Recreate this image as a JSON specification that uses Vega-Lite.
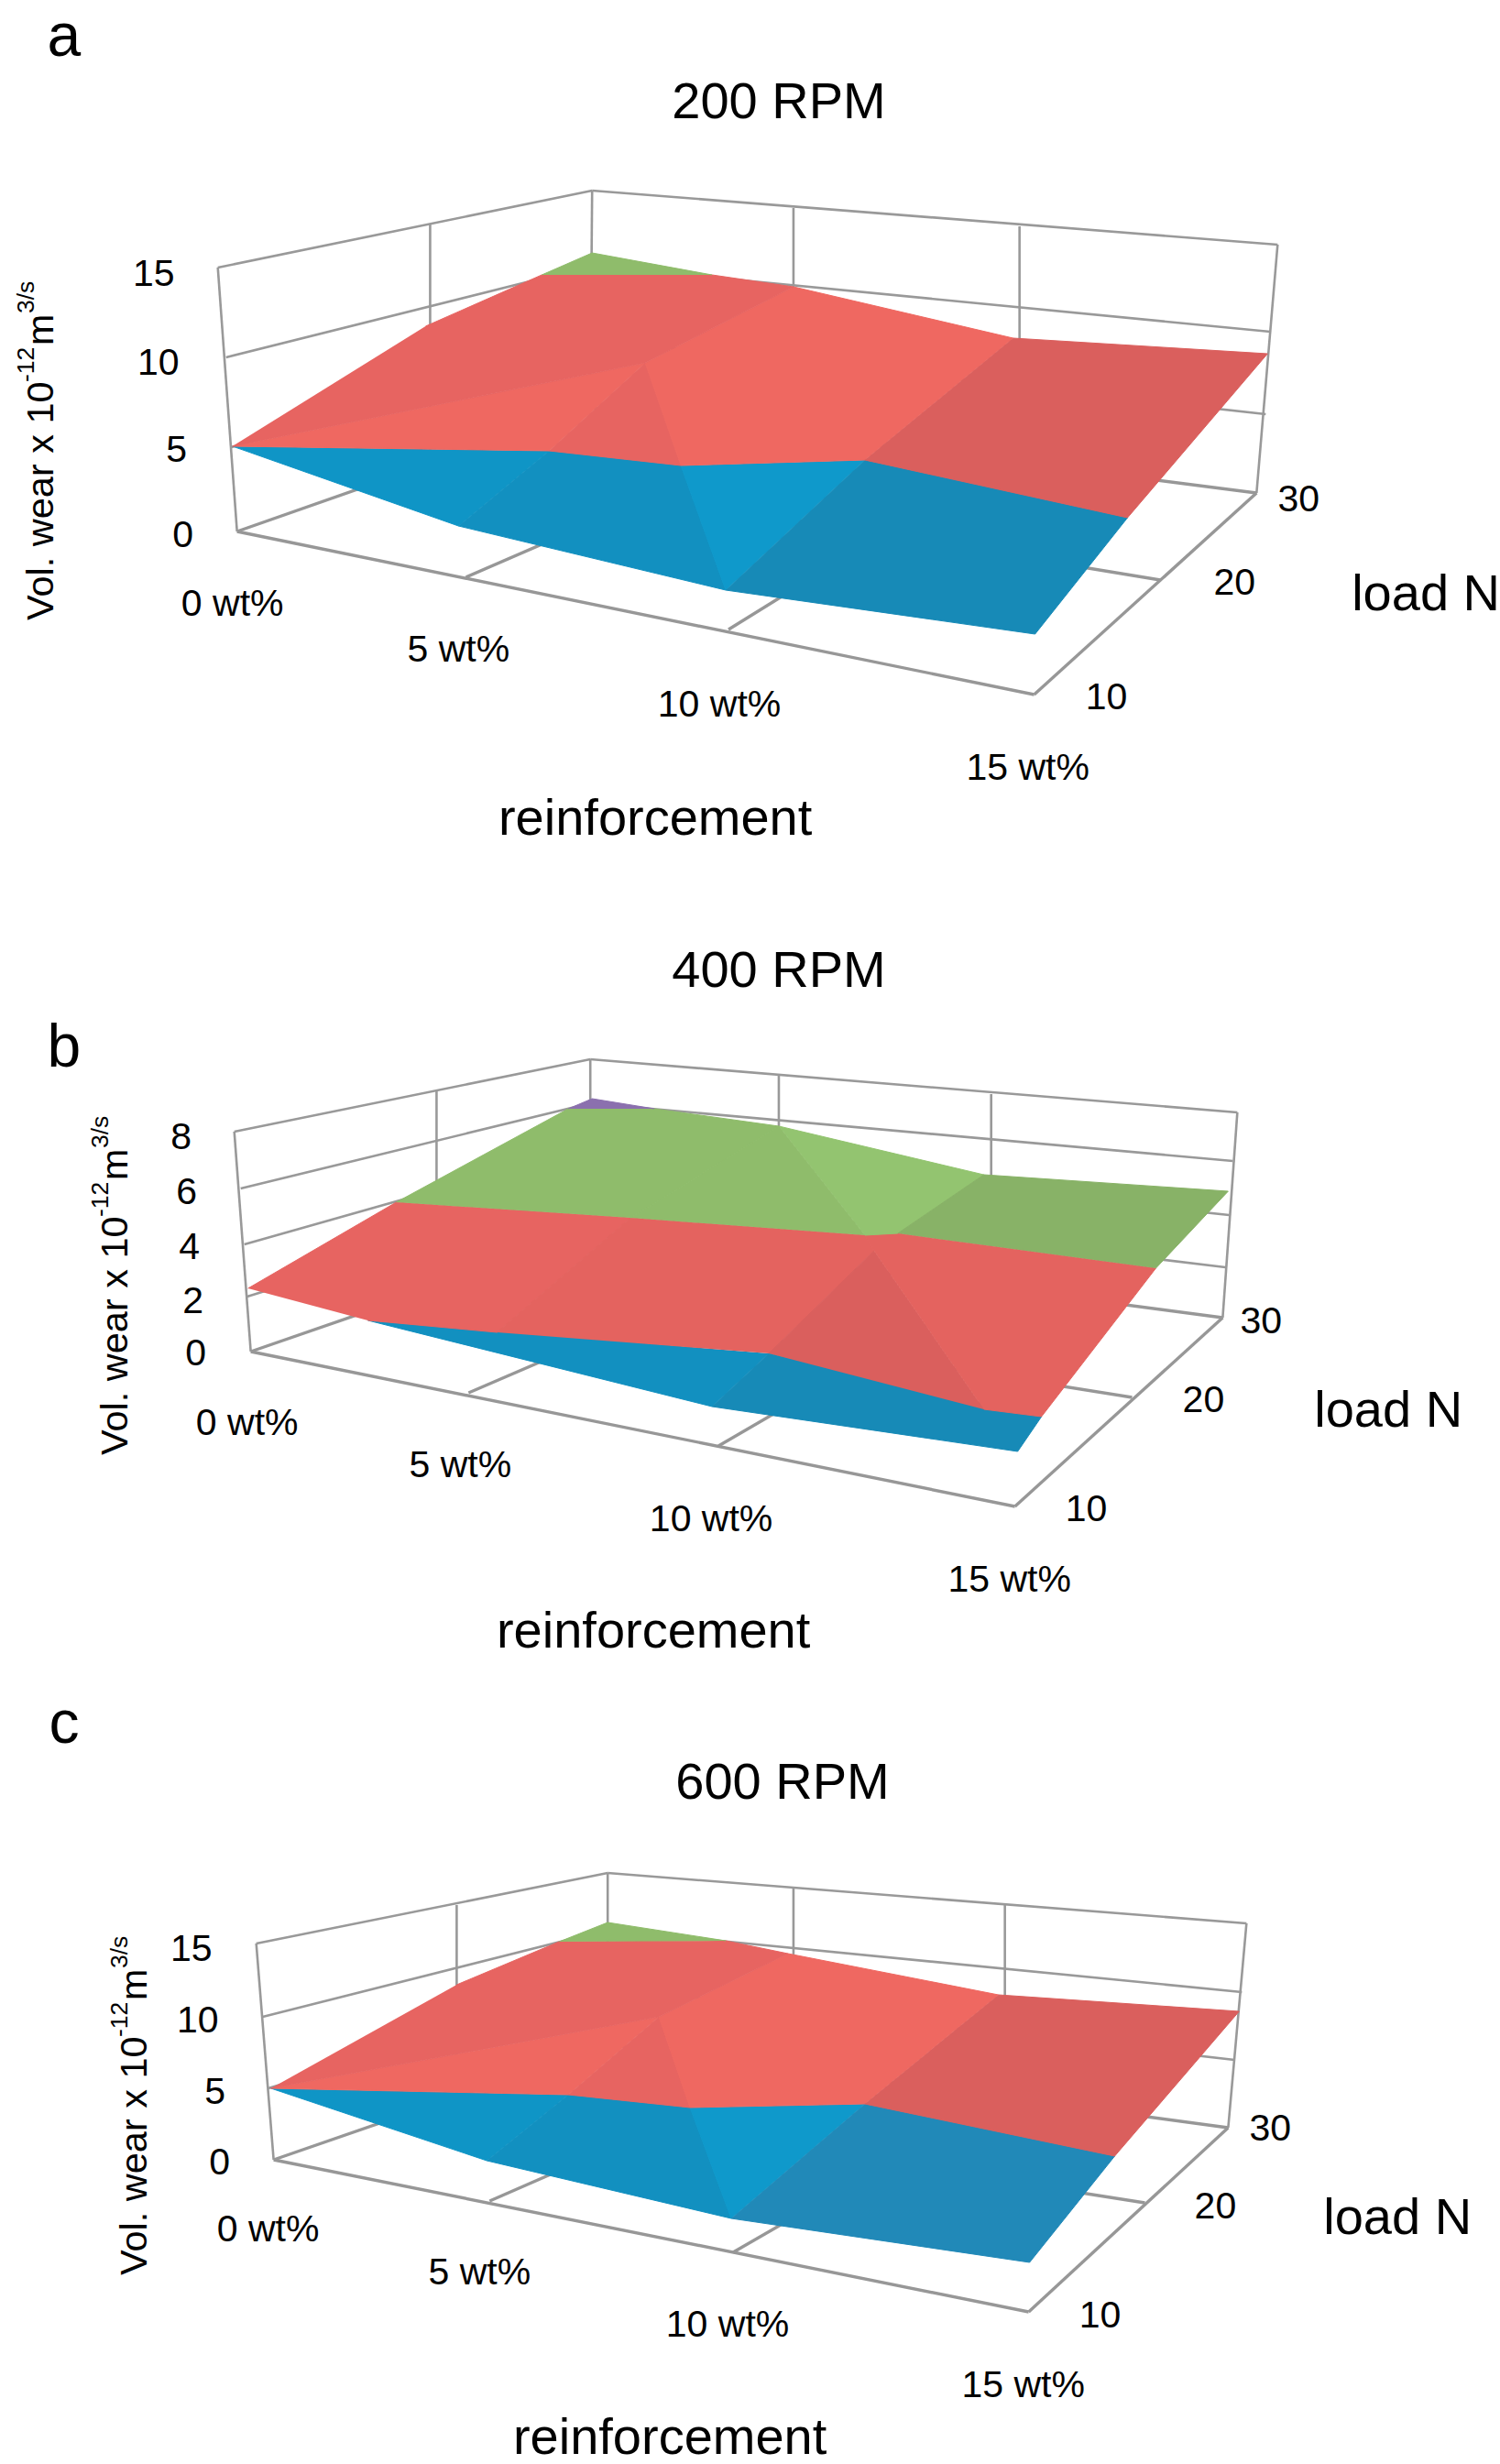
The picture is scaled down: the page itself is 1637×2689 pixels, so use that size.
{"$schema":"https://vega.github.io/schema/vega-lite/v6.json","width":1637,"height":2689,"padding":0,"autosize":{"type":"fit","contains":"padding"},"background":"white","config":{"view":{"stroke":null}},
"datasets":{
"frame":[
{"p":"a","k":"h","x":259,"y":580,"x2":1130,"y2":758},{"p":"a","k":"h","x":1130,"y":758,"x2":1373,"y2":538},{"p":"a","k":"h","x":259,"y":580,"x2":645,"y2":445},{"p":"a","k":"h","x":645,"y":445,"x2":1373,"y2":538},
{"p":"a","k":"h","x":509,"y":630,"x2":867,"y2":475},{"p":"a","k":"h","x":796,"y":687,"x2":1114,"y2":490},{"p":"a","k":"h","x":1268,"y":633,"x2":470,"y2":502},
{"p":"a","k":"l","x":238,"y":292,"x2":647,"y2":208},{"p":"a","k":"l","x":647,"y":208,"x2":1396,"y2":267},{"p":"a","k":"l","x":238,"y":292,"x2":259,"y2":580},{"p":"a","k":"l","x":647,"y":208,"x2":645,"y2":445},{"p":"a","k":"l","x":1396,"y":267,"x2":1373,"y2":538},
{"p":"a","k":"l","x":470,"y":244,"x2":470,"y2":502},{"p":"a","k":"l","x":867,"y":227,"x2":867,"y2":475},{"p":"a","k":"l","x":1114,"y":247,"x2":1114,"y2":490},
{"p":"a","k":"l","x":247,"y":390,"x2":647,"y2":290},{"p":"a","k":"l","x":253,"y":488,"x2":647,"y2":370},{"p":"a","k":"l","x":647,"y":290,"x2":1388,"y2":362},{"p":"a","k":"l","x":647,"y":370,"x2":1383,"y2":452},
{"p":"b","k":"h","x":274,"y":1475,"x2":1109,"y2":1644},{"p":"b","k":"h","x":1109,"y":1644,"x2":1336,"y2":1438},{"p":"b","k":"h","x":274,"y":1475,"x2":645,"y2":1347},{"p":"b","k":"h","x":645,"y":1347,"x2":1336,"y2":1438},
{"p":"b","k":"h","x":512,"y":1520,"x2":851,"y2":1374},{"p":"b","k":"h","x":785,"y":1578,"x2":1083,"y2":1405},{"p":"b","k":"h","x":1237,"y":1525,"x2":477,"y2":1404},
{"p":"b","k":"l","x":256,"y":1235,"x2":645,"y2":1156},{"p":"b","k":"l","x":645,"y":1156,"x2":1352,"y2":1214},{"p":"b","k":"l","x":256,"y":1235,"x2":274,"y2":1475},{"p":"b","k":"l","x":645,"y":1156,"x2":645,"y2":1347},{"p":"b","k":"l","x":1352,"y":1214,"x2":1336,"y2":1438},
{"p":"b","k":"l","x":477,"y":1191,"x2":477,"y2":1404},{"p":"b","k":"l","x":851,"y":1173,"x2":851,"y2":1374},{"p":"b","k":"l","x":1083,"y":1194,"x2":1083,"y2":1405},
{"p":"b","k":"l","x":270,"y":1415,"x2":645,"y2":1299},{"p":"b","k":"l","x":267,"y":1358,"x2":645,"y2":1251},{"p":"b","k":"l","x":263,"y":1297,"x2":645,"y2":1204},{"p":"b","k":"l","x":645,"y":1299,"x2":1339,"y2":1383},{"p":"b","k":"l","x":645,"y":1251,"x2":1343,"y2":1326},{"p":"b","k":"l","x":645,"y":1204,"x2":1347,"y2":1267},
{"p":"c","k":"h","x":299,"y":2357,"x2":1124,"y2":2523},{"p":"c","k":"h","x":1124,"y":2523,"x2":1342,"y2":2322},{"p":"c","k":"h","x":299,"y":2357,"x2":664,"y2":2231},{"p":"c","k":"h","x":664,"y":2231,"x2":1342,"y2":2322},
{"p":"c","k":"h","x":535,"y":2402,"x2":867,"y2":2257},{"p":"c","k":"h","x":801,"y":2458,"x2":1098,"y2":2287},{"p":"c","k":"h","x":1251,"y":2404,"x2":499,"y2":2286},
{"p":"c","k":"l","x":280,"y":2121,"x2":664,"y2":2044},{"p":"c","k":"l","x":664,"y":2044,"x2":1362,"y2":2099},{"p":"c","k":"l","x":280,"y":2121,"x2":299,"y2":2357},{"p":"c","k":"l","x":664,"y":2044,"x2":664,"y2":2231},{"p":"c","k":"l","x":1362,"y":2099,"x2":1342,"y2":2322},
{"p":"c","k":"l","x":499,"y":2079,"x2":499,"y2":2286},{"p":"c","k":"l","x":867,"y":2061,"x2":867,"y2":2257},{"p":"c","k":"l","x":1098,"y":2079,"x2":1098,"y2":2287},
{"p":"c","k":"l","x":287,"y":2201,"x2":664,"y2":2106},{"p":"c","k":"l","x":293,"y":2279,"x2":664,"y2":2169},{"p":"c","k":"l","x":664,"y":2106,"x2":1357,"y2":2174},{"p":"c","k":"l","x":664,"y":2169,"x2":1349,"y2":2248}
],
"surface":[
{"f":"a1","z":"blueMid","i":0,"x":254,"y":487},{"f":"a1","z":"blueMid","i":1,"x":501,"y":574},{"f":"a1","z":"blueMid","i":2,"x":600,"y":492},
{"f":"a2","z":"blueDeep","i":0,"x":501,"y":574},{"f":"a2","z":"blueDeep","i":1,"x":793,"y":644},{"f":"a2","z":"blueDeep","i":2,"x":744,"y":508},{"f":"a2","z":"blueDeep","i":3,"x":600,"y":492},
{"f":"a3","z":"blueBright","i":0,"x":744,"y":508},{"f":"a3","z":"blueBright","i":1,"x":793,"y":644},{"f":"a3","z":"blueBright","i":2,"x":945,"y":502},
{"f":"a4","z":"blueDark","i":0,"x":793,"y":644},{"f":"a4","z":"blueDark","i":1,"x":1131,"y":692},{"f":"a4","z":"blueDark","i":2,"x":1232,"y":565},{"f":"a4","z":"blueDark","i":3,"x":945,"y":502},
{"f":"a5","z":"redBright","i":0,"x":254,"y":487},{"f":"a5","z":"redBright","i":1,"x":600,"y":492},{"f":"a5","z":"redBright","i":2,"x":705,"y":396},
{"f":"a6","z":"redMid","i":0,"x":600,"y":492},{"f":"a6","z":"redMid","i":1,"x":744,"y":508},{"f":"a6","z":"redMid","i":2,"x":705,"y":396},
{"f":"a7","z":"redBright","i":0,"x":705,"y":396},{"f":"a7","z":"redBright","i":1,"x":744,"y":508},{"f":"a7","z":"redBright","i":2,"x":945,"y":502},{"f":"a7","z":"redBright","i":3,"x":1107,"y":369},{"f":"a7","z":"redBright","i":4,"x":867,"y":313},
{"f":"a8","z":"redMid","i":0,"x":254,"y":487},{"f":"a8","z":"redMid","i":1,"x":705,"y":396},{"f":"a8","z":"redMid","i":2,"x":867,"y":313},{"f":"a8","z":"redMid","i":3,"x":778,"y":300},{"f":"a8","z":"redMid","i":4,"x":592,"y":300},{"f":"a8","z":"redMid","i":5,"x":465,"y":356},
{"f":"a9","z":"redDark","i":0,"x":945,"y":502},{"f":"a9","z":"redDark","i":1,"x":1232,"y":565},{"f":"a9","z":"redDark","i":2,"x":1385,"y":386},{"f":"a9","z":"redDark","i":3,"x":1107,"y":369},
{"f":"a10","z":"greenMid","i":0,"x":592,"y":300},{"f":"a10","z":"greenMid","i":1,"x":647,"y":276},{"f":"a10","z":"greenMid","i":2,"x":778,"y":300},
{"f":"b1","z":"blueDeep","i":0,"x":402,"y":1441},{"f":"b1","z":"blueDeep","i":1,"x":778,"y":1535},{"f":"b1","z":"blueDeep","i":2,"x":840,"y":1477},
{"f":"b2","z":"blueDark","i":0,"x":778,"y":1535},{"f":"b2","z":"blueDark","i":1,"x":1112,"y":1584},{"f":"b2","z":"blueDark","i":2,"x":1138,"y":1546},{"f":"b2","z":"blueDark","i":3,"x":840,"y":1477},
{"f":"b3","z":"redMid","i":0,"x":271,"y":1406},{"f":"b3","z":"redMid","i":1,"x":433,"y":1312},{"f":"b3","z":"redMid","i":2,"x":689,"y":1329},{"f":"b3","z":"redMid","i":3,"x":543,"y":1454},{"f":"b3","z":"redMid","i":4,"x":402,"y":1441},
{"f":"b4","z":"redSoft","i":0,"x":543,"y":1454},{"f":"b4","z":"redSoft","i":1,"x":689,"y":1329},{"f":"b4","z":"redSoft","i":2,"x":945,"y":1348},{"f":"b4","z":"redSoft","i":3,"x":955,"y":1365},{"f":"b4","z":"redSoft","i":4,"x":840,"y":1477},
{"f":"b5","z":"redDark","i":0,"x":840,"y":1477},{"f":"b5","z":"redDark","i":1,"x":955,"y":1365},{"f":"b5","z":"redDark","i":2,"x":1075,"y":1538},
{"f":"b6","z":"redSoft","i":0,"x":955,"y":1365},{"f":"b6","z":"redSoft","i":1,"x":945,"y":1348},{"f":"b6","z":"redSoft","i":2,"x":981,"y":1346},{"f":"b6","z":"redSoft","i":3,"x":1263,"y":1384},{"f":"b6","z":"redSoft","i":4,"x":1138,"y":1546},{"f":"b6","z":"redSoft","i":5,"x":1075,"y":1538},
{"f":"b7","z":"greenMid","i":0,"x":433,"y":1312},{"f":"b7","z":"greenMid","i":1,"x":621,"y":1210},{"f":"b7","z":"greenMid","i":2,"x":715,"y":1210},{"f":"b7","z":"greenMid","i":3,"x":851,"y":1229},{"f":"b7","z":"greenMid","i":4,"x":689,"y":1329},
{"f":"b8","z":"greenMid","i":0,"x":689,"y":1329},{"f":"b8","z":"greenMid","i":1,"x":851,"y":1229},{"f":"b8","z":"greenMid","i":2,"x":945,"y":1348},
{"f":"b9","z":"greenBright","i":0,"x":851,"y":1229},{"f":"b9","z":"greenBright","i":1,"x":1075,"y":1282},{"f":"b9","z":"greenBright","i":2,"x":981,"y":1346},{"f":"b9","z":"greenBright","i":3,"x":945,"y":1348},
{"f":"b10","z":"greenDark","i":0,"x":981,"y":1346},{"f":"b10","z":"greenDark","i":1,"x":1075,"y":1282},{"f":"b10","z":"greenDark","i":2,"x":1342,"y":1300},{"f":"b10","z":"greenDark","i":3,"x":1263,"y":1384},
{"f":"b11","z":"purple","i":0,"x":621,"y":1210},{"f":"b11","z":"purple","i":1,"x":647,"y":1199},{"f":"b11","z":"purple","i":2,"x":715,"y":1210},
{"f":"c1","z":"blueMid","i":0,"x":296,"y":2279},{"f":"c1","z":"blueMid","i":1,"x":532,"y":2358},{"f":"c1","z":"blueMid","i":2,"x":621,"y":2286},
{"f":"c2","z":"blueDeep","i":0,"x":532,"y":2358},{"f":"c2","z":"blueDeep","i":1,"x":799,"y":2421},{"f":"c2","z":"blueDeep","i":2,"x":754,"y":2300},{"f":"c2","z":"blueDeep","i":3,"x":621,"y":2286},
{"f":"c3","z":"blueBright","i":0,"x":754,"y":2300},{"f":"c3","z":"blueBright","i":1,"x":799,"y":2421},{"f":"c3","z":"blueBright","i":2,"x":945,"y":2296},
{"f":"c4","z":"bluePale","i":0,"x":799,"y":2421},{"f":"c4","z":"bluePale","i":1,"x":1125,"y":2469},{"f":"c4","z":"bluePale","i":2,"x":1218,"y":2353},{"f":"c4","z":"bluePale","i":3,"x":945,"y":2296},
{"f":"c5","z":"redBright","i":0,"x":296,"y":2279},{"f":"c5","z":"redBright","i":1,"x":621,"y":2286},{"f":"c5","z":"redBright","i":2,"x":720,"y":2201},
{"f":"c6","z":"redMid","i":0,"x":621,"y":2286},{"f":"c6","z":"redMid","i":1,"x":754,"y":2300},{"f":"c6","z":"redMid","i":2,"x":720,"y":2201},
{"f":"c7","z":"redBright","i":0,"x":720,"y":2201},{"f":"c7","z":"redBright","i":1,"x":754,"y":2300},{"f":"c7","z":"redBright","i":2,"x":945,"y":2296},{"f":"c7","z":"redBright","i":3,"x":1091,"y":2177},{"f":"c7","z":"redBright","i":4,"x":861,"y":2132},
{"f":"c8","z":"redMid","i":0,"x":296,"y":2279},{"f":"c8","z":"redMid","i":1,"x":720,"y":2201},{"f":"c8","z":"redMid","i":2,"x":861,"y":2132},{"f":"c8","z":"redMid","i":3,"x":793,"y":2118},{"f":"c8","z":"redMid","i":4,"x":611,"y":2119},{"f":"c8","z":"redMid","i":5,"x":499,"y":2166},
{"f":"c9","z":"redDark","i":0,"x":945,"y":2296},{"f":"c9","z":"redDark","i":1,"x":1218,"y":2353},{"f":"c9","z":"redDark","i":2,"x":1354,"y":2195},{"f":"c9","z":"redDark","i":3,"x":1091,"y":2177},
{"f":"c10","z":"greenMid","i":0,"x":611,"y":2119},{"f":"c10","z":"greenMid","i":1,"x":664,"y":2098},{"f":"c10","z":"greenMid","i":2,"x":793,"y":2118}
],
"labels":[
{"r":"letter","t":"a","x":70,"y":61},{"r":"letter","t":"b","x":70,"y":1164},{"r":"letter","t":"c","x":70,"y":1902},
{"r":"head","t":"200 RPM","x":851,"y":129},{"r":"head","t":"400 RPM","x":851,"y":1077},{"r":"head","t":"600 RPM","x":855,"y":1963},
{"r":"head","t":"reinforcement","x":716,"y":911},{"r":"head","t":"reinforcement","x":714,"y":1798},{"r":"head","t":"reinforcement","x":732,"y":2678},
{"r":"head","t":"load N","x":1558,"y":666},{"r":"head","t":"load N","x":1517,"y":1557},{"r":"head","t":"load N","x":1527,"y":2438},
{"r":"tick","t":"15","x":168,"y":312},{"r":"tick","t":"10","x":173,"y":409},{"r":"tick","t":"5","x":193,"y":504},{"r":"tick","t":"0","x":200,"y":597},
{"r":"tick","t":"0 wt%","x":254,"y":672},{"r":"tick","t":"5 wt%","x":501,"y":722},{"r":"tick","t":"10 wt%","x":786,"y":782},{"r":"tick","t":"15 wt%","x":1123,"y":851},
{"r":"tick","t":"30","x":1419,"y":558},{"r":"tick","t":"20","x":1349,"y":649},{"r":"tick","t":"10","x":1209,"y":774},
{"r":"tick","t":"8","x":198,"y":1254},{"r":"tick","t":"6","x":204,"y":1314},{"r":"tick","t":"4","x":207,"y":1374},{"r":"tick","t":"2","x":211,"y":1433},{"r":"tick","t":"0","x":214,"y":1490},
{"r":"tick","t":"0 wt%","x":270,"y":1566},{"r":"tick","t":"5 wt%","x":503,"y":1612},{"r":"tick","t":"10 wt%","x":777,"y":1671},{"r":"tick","t":"15 wt%","x":1103,"y":1737},
{"r":"tick","t":"30","x":1378,"y":1455},{"r":"tick","t":"20","x":1315,"y":1541},{"r":"tick","t":"10","x":1187,"y":1660},
{"r":"tick","t":"15","x":209,"y":2140},{"r":"tick","t":"10","x":216,"y":2218},{"r":"tick","t":"5","x":235,"y":2296},{"r":"tick","t":"0","x":240,"y":2373},
{"r":"tick","t":"0 wt%","x":293,"y":2446},{"r":"tick","t":"5 wt%","x":524,"y":2493},{"r":"tick","t":"10 wt%","x":795,"y":2550},{"r":"tick","t":"15 wt%","x":1118,"y":2616},
{"r":"tick","t":"30","x":1388,"y":2336},{"r":"tick","t":"20","x":1328,"y":2421},{"r":"tick","t":"10","x":1202,"y":2540},
{"r":"yl","t":"Vol. wear x 10","x":58,"y":677},{"r":"ym","t":"m","x":58,"y":377},
{"r":"yl","t":"Vol. wear x 10","x":139,"y":1588},{"r":"ym","t":"m","x":139,"y":1288},
{"r":"yl","t":"Vol. wear x 10","x":160,"y":2483},{"r":"ym","t":"m","x":160,"y":2183},
{"r":"sup","t":"-12","x":37,"y":417},{"r":"sup","t":"3/s","x":37,"y":342},
{"r":"sup","t":"-12","x":118,"y":1328},{"r":"sup","t":"3/s","x":118,"y":1253},
{"r":"sup","t":"-12","x":139,"y":2223},{"r":"sup","t":"3/s","x":139,"y":2148}
]},
"encoding":{"x":{"field":"x","type":"quantitative","scale":{"domain":[0,1637],"nice":false,"zero":false},"axis":null},"y":{"field":"y","type":"quantitative","scale":{"domain":[2689,0],"nice":false,"zero":false},"axis":null}},
"layer":[
{"data":{"name":"frame"},"transform":[{"filter":"datum.k=='l'"}],"mark":{"type":"rule","stroke":"#999999","strokeWidth":2.6},"encoding":{"x2":{"field":"x2"},"y2":{"field":"y2"}}},
{"data":{"name":"frame"},"transform":[{"filter":"datum.k=='h'"}],"mark":{"type":"rule","stroke":"#979797","strokeWidth":3.4},"encoding":{"x2":{"field":"x2"},"y2":{"field":"y2"}}},
{"data":{"name":"surface"},"mark":{"type":"line","filled":true,"strokeWidth":1,"interpolate":"linear"},"encoding":{"detail":{"field":"f"},"order":{"field":"i","type":"quantitative"},
"fill":{"field":"z","type":"nominal","legend":null,"scale":{"domain":["blueBright","blueMid","blueDeep","blueDark","bluePale","redBright","redMid","redSoft","redDark","greenBright","greenMid","greenDark","purple"],"range":["#0f99cb","#0f95c6","#1290c0","#178ab7","#2189b8","#ef6861","#e76461","#e4635f","#da5f5d","#93c470","#8fbc6b","#88b267","#8b70ae"]}},
"stroke":{"field":"z","type":"nominal","legend":null,"scale":{"domain":["blueBright","blueMid","blueDeep","blueDark","bluePale","redBright","redMid","redSoft","redDark","greenBright","greenMid","greenDark","purple"],"range":["#0f99cb","#0f95c6","#1290c0","#178ab7","#2189b8","#ef6861","#e76461","#e4635f","#da5f5d","#93c470","#8fbc6b","#88b267","#8b70ae"]}}}},
{"data":{"name":"labels"},"transform":[{"filter":"datum.r=='letter'"}],"mark":{"type":"text","font":"Liberation Sans","fontSize":66,"align":"center","baseline":"alphabetic","fill":"#000"},"encoding":{"text":{"field":"t"}}},
{"data":{"name":"labels"},"transform":[{"filter":"datum.r=='head'"}],"mark":{"type":"text","font":"Liberation Sans","fontSize":56,"align":"center","baseline":"alphabetic","fill":"#000"},"encoding":{"text":{"field":"t"}}},
{"data":{"name":"labels"},"transform":[{"filter":"datum.r=='tick'"}],"mark":{"type":"text","font":"Liberation Sans","fontSize":41,"align":"center","baseline":"alphabetic","fill":"#000"},"encoding":{"text":{"field":"t"}}},
{"data":{"name":"labels"},"transform":[{"filter":"datum.r=='yl'"}],"mark":{"type":"text","font":"Liberation Sans","fontSize":41.5,"angle":270,"align":"left","baseline":"alphabetic","fill":"#000"},"encoding":{"text":{"field":"t"}}},
{"data":{"name":"labels"},"transform":[{"filter":"datum.r=='ym'"}],"mark":{"type":"text","font":"Liberation Sans","fontSize":41,"angle":270,"align":"left","baseline":"alphabetic","fill":"#000"},"encoding":{"text":{"field":"t"}}},
{"data":{"name":"labels"},"transform":[{"filter":"datum.r=='sup'"}],"mark":{"type":"text","font":"Liberation Sans","fontSize":26.5,"angle":270,"align":"left","baseline":"alphabetic","fill":"#000"},"encoding":{"text":{"field":"t"}}}
]}
